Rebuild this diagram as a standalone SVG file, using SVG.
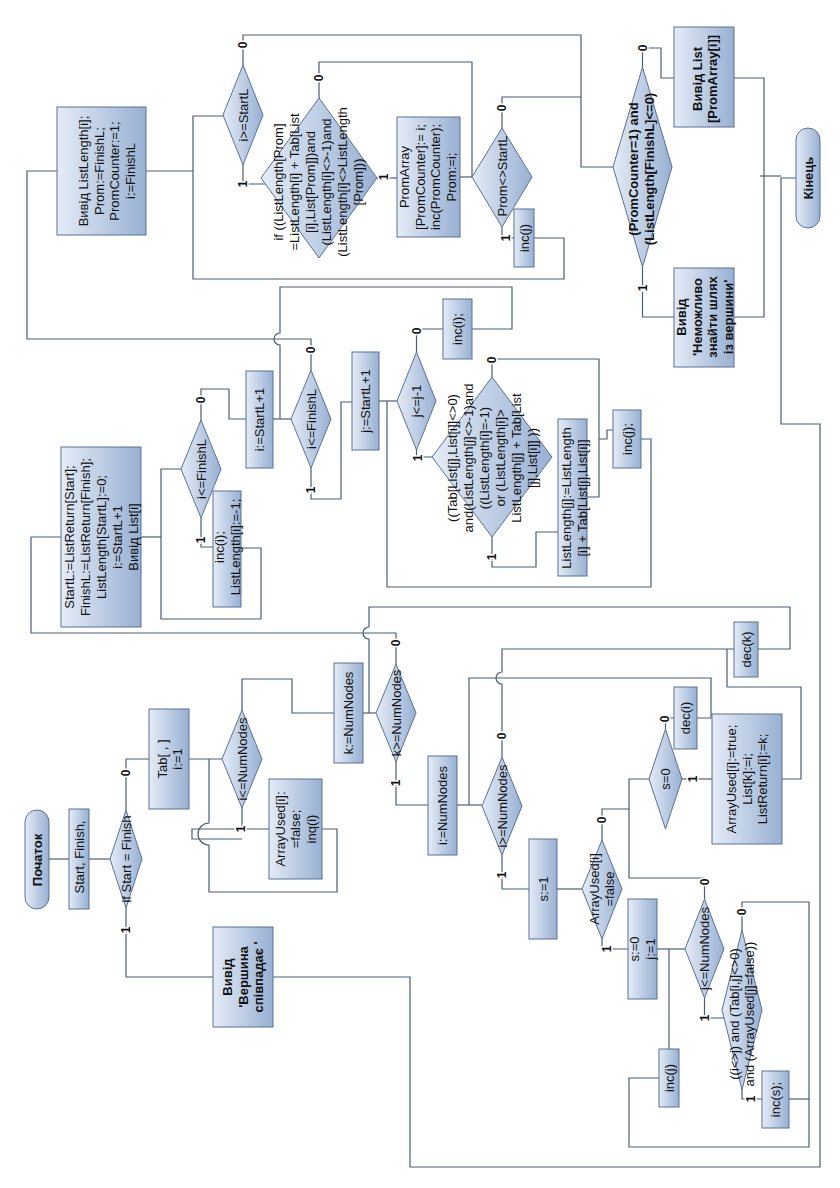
<svg xmlns="http://www.w3.org/2000/svg" width="840" height="1188" viewBox="0 0 840 1188">
<defs>
<linearGradient id="g" x1="0" y1="0" x2="1" y2="0">
<stop offset="0" stop-color="#e4ecf7"/>
<stop offset="1" stop-color="#98b0d2"/>
</linearGradient>
<style>
.ln{fill:none;stroke:#4b5e72;stroke-width:1.2}
.bx{fill:url(#g);stroke:#5a7194;stroke-width:1}
.t{font-family:"Liberation Sans",Arial,sans-serif;font-size:13px;fill:#111;text-anchor:middle}
.b{font-weight:bold}
.lb{font-family:"Liberation Sans",Arial,sans-serif;font-size:12px;font-weight:bold;text-anchor:middle;fill:#111;stroke:#fff;stroke-width:3;paint-order:stroke}
</style>
</defs>
<rect width="840" height="1188" fill="#fff"/>
<g id="connectors">
<path class="ln" d="M49,859 H69"/>
<path class="ln" d="M89,859 H110"/>
<path class="ln" d="M126,810 V759 H149"/>
<path class="ln" d="M126,908 V977 H213"/>
<path class="ln" d="M273,977 H410 V1167 H820 V424 H781 V178 H796"/>
<path class="ln" d="M189,759 H222"/>
<path class="ln" d="M242,808 V829 H269"/>
<path class="ln" d="M242,839 H192 V829 H242"/>
<path class="ln" d="M322,829 H337 V892 H209 V845 A11,11 0 0 1 209,823 V759"/>
<path class="ln" d="M242,710 V679 H292 V713 H334"/>
<path class="ln" d="M363,713 H376"/>
<path class="ln" d="M758,649 H790 V607 H369 V627 A6,6 0 0 0 369,639 V713"/>
<path class="ln" d="M396,664 V633 H31 V537 H61"/>
<path class="ln" d="M396,762 V805 H428"/>
<path class="ln" d="M457,805 H482"/>
<path class="ln" d="M697,718 H711 V678 H469 V805"/>
<path class="ln" d="M502,757 V684 A6,6 0 0 1 502,672 V649 H734"/>
<path class="ln" d="M782,779 H801 V687 H727 V649"/>
<path class="ln" d="M502,855 V889 H529"/>
<path class="ln" d="M557,889 H582"/>
<path class="ln" d="M602,840 V809 H629 V779 H649"/>
<path class="ln" d="M629,809 V878 H704.5 V899"/>
<path class="ln" d="M665.5,729 V718 H674"/>
<path class="ln" d="M682,779 H712"/>
<path class="ln" d="M602,939 V949 H628"/>
<path class="ln" d="M657,949 H685"/>
<path class="ln" d="M669,949 V1049"/>
<path class="ln" d="M704.5,998 V1018 H724"/>
<path class="ln" d="M742,930 V902 H809 V1147 H629 V1078 H659"/>
<path class="ln" d="M742,1090 V1099 H762"/>
<path class="ln" d="M789,1099 H809"/>
<path class="ln" d="M141,537 H161"/>
<path class="ln" d="M241,548 H261 V619 H161 V469 H181"/>
<path class="ln" d="M201,518 V547 H213"/>
<path class="ln" d="M201,420 V389 H229 V419 H246"/>
<path class="ln" d="M273,419 H291"/>
<path class="ln" d="M472,329 H512 V287 H280 V333 A6,6 0 0 0 280,345 V419"/>
<path class="ln" d="M311,370 V339 H27 V171 H57"/>
<path class="ln" d="M311,468 V499 H341 V402 H352"/>
<path class="ln" d="M379,401 H397"/>
<path class="ln" d="M641,439 H651 V587 H387 V401"/>
<path class="ln" d="M416.5,352 V329 H443"/>
<path class="ln" d="M416.5,450 V457 H432"/>
<path class="ln" d="M492,377 V359 H599 V497 H587"/>
<path class="ln" d="M599,439 H607 V430 H613"/>
<path class="ln" d="M492,537 V567 H536 V532 H558"/>
<path class="ln" d="M146,171 H193"/>
<path class="ln" d="M534,238 H564 V279 H193 V116 H223"/>
<path class="ln" d="M243,65 V35 H581 V167 H613"/>
<path class="ln" d="M243,165 V184 H265"/>
<path class="ln" d="M319,98 V62 H472 V177"/>
<path class="ln" d="M377,178 H397"/>
<path class="ln" d="M460,177 H472"/>
<path class="ln" d="M502,128 V97 H581"/>
<path class="ln" d="M502,227 V238 H514"/>
<path class="ln" d="M642.5,67 V48 H661 V78 H674"/>
<path class="ln" d="M642.5,267 V317 H674"/>
<path class="ln" d="M734,78 H764 V317 H734"/>
<path class="ln" d="M760,176 H781"/>
</g>

<g id="n-start">
<rect class="bx" x="25" y="810" width="24" height="99" rx="12"/>
<text class="t b" transform="translate(37,860) rotate(-90)"><tspan x="0" y="4.5">Початок</tspan></text>
</g>
<g id="n-input">
<rect class="bx" x="69" y="809" width="20" height="100"/>
<text class="t" transform="translate(79,857) rotate(-90)"><tspan x="0" y="4.5">Start, Finish,</tspan></text>
</g>
<g id="n-if-start">
<polygon class="bx" points="110,859 126,810 142,859 126,908"/>
<text class="t" transform="translate(126,859) rotate(-90)"><tspan x="0" y="4.5">if Start = Finish</tspan></text>
</g>
<g id="n-tab">
<rect class="bx" x="149" y="709" width="40" height="100"/>
<text class="t" transform="translate(170,759) rotate(-90)"><tspan x="0" y="-3.25">Tab[ , ]</tspan><tspan x="0" y="12.25">i:=1</tspan></text>
</g>
<g id="n-i-le-numnodes">
<polygon class="bx" points="222,759 242,710 262,759 242,808"/>
<text class="t" transform="translate(242,759) rotate(-90)"><tspan x="0" y="4.5">i&lt;=NumNodes</tspan></text>
</g>
<g id="n-arrayused-false">
<rect class="bx" x="269" y="779" width="53" height="100"/>
<text class="t" transform="translate(295.5,829) rotate(-90)"><tspan x="0" y="-11">ArrayUsed[i]:</tspan><tspan x="0" y="4.5">=false;</tspan><tspan x="0" y="20">inq(i)</tspan></text>
</g>
<g id="n-k-assign">
<rect class="bx" x="334" y="663" width="29" height="100"/>
<text class="t" transform="translate(348.5,713) rotate(-90)"><tspan x="0" y="4.5">k:=NumNodes</tspan></text>
</g>
<g id="n-k-ge">
<polygon class="bx" points="376,713 396,664 416,713 396,762"/>
<text class="t" transform="translate(396,713) rotate(-90)"><tspan x="0" y="4.5">k&gt;=NumNodes</tspan></text>
</g>
<g id="n-i-assign">
<rect class="bx" x="428" y="756" width="29" height="99"/>
<text class="t" transform="translate(442.5,805.5) rotate(-90)"><tspan x="0" y="4.5">i:=NumNodes</tspan></text>
</g>
<g id="n-i-ge">
<polygon class="bx" points="482,806 502,757 522,806 502,855"/>
<text class="t" transform="translate(502,806) rotate(-90)"><tspan x="0" y="4.5">i&gt;=NumNodes</tspan></text>
</g>
<g id="n-s1">
<rect class="bx" x="529" y="839" width="28" height="100"/>
<text class="t" transform="translate(543,889) rotate(-90)"><tspan x="0" y="4.5">s:=1</tspan></text>
</g>
<g id="n-arrayused-test">
<polygon class="bx" points="582,889 602,840 622,889 602,939"/>
<text class="t" transform="translate(602,889) rotate(-90)"><tspan x="0" y="-3.25">ArrayUsed[i]</tspan><tspan x="0" y="12.25">=false</tspan></text>
</g>
<g id="n-s0-test">
<polygon class="bx" points="649,779 665.5,729 682,779 665.5,829"/>
<text class="t" transform="translate(665.5,779) rotate(-90)"><tspan x="0" y="4.5">s=0</tspan></text>
</g>
<g id="n-dec-i">
<rect class="bx" x="674" y="687" width="23" height="62"/>
<text class="t" transform="translate(685.5,718) rotate(-90)"><tspan x="0" y="4.5">dec(i)</tspan></text>
</g>
<g id="n-arrayused-true">
<rect class="bx" x="712" y="714" width="70" height="130"/>
<text class="t" transform="translate(747,779) rotate(-90)"><tspan x="0" y="-11">ArrayUsed[i]:=true;</tspan><tspan x="0" y="4.5">List[k]:=i;</tspan><tspan x="0" y="20">ListReturn[i]:=k;</tspan></text>
</g>
<g id="n-dec-k">
<rect class="bx" x="734" y="622" width="24" height="55"/>
<text class="t" transform="translate(746,649.5) rotate(-90)"><tspan x="0" y="4.5">dec(k)</tspan></text>
</g>
<g id="n-s0-j1">
<rect class="bx" x="628" y="899" width="29" height="100"/>
<text class="t" transform="translate(642.5,949) rotate(-90)"><tspan x="0" y="-3.25">s:=0</tspan><tspan x="0" y="12.25">j:=1</tspan></text>
</g>
<g id="n-j-le">
<polygon class="bx" points="685,949 704.5,899 724,949 704.5,998"/>
<text class="t" transform="translate(704.5,948.5) rotate(-90)"><tspan x="0" y="4.5">j&lt;=NumNodes</tspan></text>
</g>
<g id="n-and-test">
<polygon class="bx" points="722,1010 742,930 762,1010 742,1090"/>
<text class="t" transform="translate(742,1014) rotate(-90)"><tspan x="0" y="-3.25">((i&lt;&gt;j) and (Tab[i,j]&lt;&gt;0)</tspan><tspan x="0" y="12.25">and (ArrayUsed[j]=false))</tspan></text>
</g>
<g id="n-inc-s">
<rect class="bx" x="762" y="1071" width="27" height="57"/>
<text class="t" transform="translate(775.5,1099.5) rotate(-90)"><tspan x="0" y="4.5">inc(s);</tspan></text>
</g>
<g id="n-inc-j-low">
<rect class="bx" x="659" y="1049" width="20" height="58"/>
<text class="t" transform="translate(669,1078) rotate(-90)"><tspan x="0" y="4.5">inc(j)</tspan></text>
</g>
<g id="n-same">
<rect class="bx" x="213" y="927" width="60" height="100"/>
<text class="t b" transform="translate(243,977) rotate(-90)"><tspan x="0" y="-11">Вивід</tspan><tspan x="0" y="4.5">'Вершина</tspan><tspan x="0" y="20">співпадає '</tspan></text>
</g>
<g id="n-startl">
<rect class="bx" x="61" y="447" width="80" height="180"/>
<text class="t" transform="translate(101.5,537) rotate(-90)"><tspan x="0" y="-27.5">StartL:=ListReturn[Start];</tspan><tspan x="0" y="-11.5">FinishL:=ListReturn[Finish];</tspan><tspan x="0" y="4.5">ListLength[StartL]:=0;</tspan><tspan x="0" y="20.5">i:=StartL+1</tspan><tspan x="0" y="36.5">Вивід List[i]</tspan></text>
</g>
<g id="n-i-le-finish1">
<polygon class="bx" points="181,469 201,420 221,469 201,518"/>
<text class="t" transform="translate(201,469) rotate(-90)"><tspan x="0" y="4.5">i&lt;=FinishL</tspan></text>
</g>
<g id="n-inc-i-len">
<rect class="bx" x="213" y="491" width="28" height="116"/>
<text class="t" transform="translate(227.5,547) rotate(-90)"><tspan x="0" y="-3.25">inc(i);</tspan><tspan x="0" y="12.25">ListLength[i]:=-1;</tspan></text>
</g>
<g id="n-i-startl">
<rect class="bx" x="246" y="371" width="27" height="97"/>
<text class="t" transform="translate(259.5,419.5) rotate(-90)"><tspan x="0" y="4.5">i:=StartL+1</tspan></text>
</g>
<g id="n-i-le-finish2">
<polygon class="bx" points="291,419 311,370 331,419 311,468"/>
<text class="t" transform="translate(311,419) rotate(-90)"><tspan x="0" y="4.5">i&lt;=FinishL</tspan></text>
</g>
<g id="n-j-startl">
<rect class="bx" x="352" y="352" width="27" height="98"/>
<text class="t" transform="translate(365.5,401) rotate(-90)"><tspan x="0" y="4.5">j:=StartL+1</tspan></text>
</g>
<g id="n-j-le-j">
<polygon class="bx" points="397,401 416.5,352 436,401 416.5,450"/>
<text class="t" transform="translate(416.5,401) rotate(-90)"><tspan x="0" y="4.5">j&lt;=j-1</tspan></text>
</g>
<g id="n-inc-i-top">
<rect class="bx" x="443" y="299" width="29" height="60"/>
<text class="t" transform="translate(457.5,329) rotate(-90)"><tspan x="0" y="4.5">inc(i);</tspan></text>
</g>
<g id="n-relax-test">
<polygon class="bx" points="432,457 492,377 552,457 492,537"/>
<text class="t" transform="translate(492,458) rotate(-90)"><tspan x="0" y="-35.5">((Tab[List[j],List[i]]&lt;&gt;0)</tspan><tspan x="0" y="-19.5">and(ListLength[j]&lt;&gt;-1)and</tspan><tspan x="0" y="-3.5">((ListLength[i]=-1)</tspan><tspan x="0" y="12.5">or (ListLength[i]&gt;</tspan><tspan x="0" y="28.5">ListLength[j] + Tab[List</tspan><tspan x="0" y="44.5">[j],List[i]] ))</tspan></text>
</g>
<g id="n-relax">
<rect class="bx" x="558" y="419" width="29" height="157"/>
<text class="t" transform="translate(574.5,498) rotate(-90)"><tspan x="0" y="-3.25">ListLength[j]:=ListLength</tspan><tspan x="0" y="12.25">[i] + Tab[List[j],List[i]]</tspan></text>
</g>
<g id="n-inc-j-mid">
<rect class="bx" x="613" y="410" width="28" height="58"/>
<text class="t" transform="translate(627,439) rotate(-90)"><tspan x="0" y="4.5">inc(j);</tspan></text>
</g>
<g id="n-out-len">
<rect class="bx" x="57" y="107" width="89" height="128"/>
<text class="t" transform="translate(107,171) rotate(-90)"><tspan x="0" y="-18.75">Вивід ListLength[i];</tspan><tspan x="0" y="-3.25">Prom:=FinishL;</tspan><tspan x="0" y="12.25">PromCounter:=1;</tspan><tspan x="0" y="27.75">i:=FinishL</tspan></text>
</g>
<g id="n-i-ge-startl">
<polygon class="bx" points="223,115 243,65 263,115 243,165"/>
<text class="t" transform="translate(243,115) rotate(-90)"><tspan x="0" y="4.5">i&gt;=StartL</tspan></text>
</g>
<g id="n-path-test">
<polygon class="bx" points="261,178 319,98 377,178 319,258"/>
<text class="t" transform="translate(318,182) rotate(-90)"><tspan x="0" y="-35.5">if ((ListLength[Prom]</tspan><tspan x="0" y="-19.5">=ListLength[i] + Tab[List</tspan><tspan x="0" y="-3.5">[i],List[Prom]])and</tspan><tspan x="0" y="12.5">(ListLength[i]&lt;&gt;-1)and</tspan><tspan x="0" y="28.5">(ListLength[i]&lt;&gt;ListLength</tspan><tspan x="0" y="44.5">[Prom]))</tspan></text>
</g>
<g id="n-promarray">
<rect class="bx" x="397" y="117" width="63" height="120"/>
<text class="t" transform="translate(428,177) rotate(-90)"><tspan x="0" y="-18.75">PromArray</tspan><tspan x="0" y="-3.25">[PromCounter]:= i;</tspan><tspan x="0" y="12.25">inc(PromCounter);</tspan><tspan x="0" y="27.75">Prom:=i;</tspan></text>
</g>
<g id="n-prom-ne">
<polygon class="bx" points="472,177 502,128 532,177 502,227"/>
<text class="t" transform="translate(502,176) rotate(-90)"><tspan x="0" y="4.5">Prom&lt;&gt;StartL</tspan></text>
</g>
<g id="n-inc-j-top">
<rect class="bx" x="514" y="209" width="20" height="58"/>
<text class="t" transform="translate(524,238) rotate(-90)"><tspan x="0" y="4.5">inc(j)</tspan></text>
</g>
<g id="n-final-test">
<polygon class="bx" points="613,167 642.5,67 672,167 642.5,267"/>
<text class="t b" transform="translate(641.5,169) rotate(-90)"><tspan x="0" y="-3.25">(PromCounter=1) and</tspan><tspan x="0" y="12.25">(ListLength[FinishL]&lt;=0)</tspan></text>
</g>
<g id="n-out-list">
<rect class="bx" x="674" y="27" width="60" height="100"/>
<text class="t b" transform="translate(705,79) rotate(-90)"><tspan x="0" y="-3.25">Вивід List</tspan><tspan x="0" y="12.25">[PromArray[i]]</tspan></text>
</g>
<g id="n-out-none">
<rect class="bx" x="674" y="268" width="60" height="99"/>
<text class="t b" transform="translate(705,317) rotate(-90)"><tspan x="0" y="-18.75">Вивід</tspan><tspan x="0" y="-3.25">'Неможливо</tspan><tspan x="0" y="12.25">знайти шлях</tspan><tspan x="0" y="27.75">із вершини'</tspan></text>
</g>
<g id="n-end">
<rect class="bx" x="796" y="128" width="24" height="100" rx="12"/>
<text class="t b" transform="translate(808,178) rotate(-90)"><tspan x="0" y="4.5">Кінець</tspan></text>
</g>

<g id="labels">
<text class="lb" transform="translate(126,773) rotate(-90)" y="4">0</text>
<text class="lb" transform="translate(126,930) rotate(-90)" y="4">1</text>
<text class="lb" transform="translate(241,829) rotate(-90)" y="4">1</text>
<text class="lb" transform="translate(396,643) rotate(-90)" y="4">0</text>
<text class="lb" transform="translate(396,783) rotate(-90)" y="4">1</text>
<text class="lb" transform="translate(502,736) rotate(-90)" y="4">0</text>
<text class="lb" transform="translate(502,875) rotate(-90)" y="4">1</text>
<text class="lb" transform="translate(602,820) rotate(-90)" y="4">0</text>
<text class="lb" transform="translate(607,949) rotate(-90)" y="4">1</text>
<text class="lb" transform="translate(665,719) rotate(-90)" y="4">0</text>
<text class="lb" transform="translate(693,779) rotate(-90)" y="4">1</text>
<text class="lb" transform="translate(704.5,882) rotate(-90)" y="4">0</text>
<text class="lb" transform="translate(704.5,1018) rotate(-90)" y="4">1</text>
<text class="lb" transform="translate(742,912) rotate(-90)" y="4">0</text>
<text class="lb" transform="translate(751,1099) rotate(-90)" y="4">1</text>
<text class="lb" transform="translate(201,400) rotate(-90)" y="4">0</text>
<text class="lb" transform="translate(201,540) rotate(-90)" y="4">1</text>
<text class="lb" transform="translate(311,350) rotate(-90)" y="4">0</text>
<text class="lb" transform="translate(311,490) rotate(-90)" y="4">1</text>
<text class="lb" transform="translate(417,331) rotate(-90)" y="4">0</text>
<text class="lb" transform="translate(418,458) rotate(-90)" y="4">1</text>
<text class="lb" transform="translate(492,360) rotate(-90)" y="4">0</text>
<text class="lb" transform="translate(492,557) rotate(-90)" y="4">1</text>
<text class="lb" transform="translate(243,45) rotate(-90)" y="4">0</text>
<text class="lb" transform="translate(243,184) rotate(-90)" y="4">1</text>
<text class="lb" transform="translate(319,78) rotate(-90)" y="4">0</text>
<text class="lb" transform="translate(384,177) rotate(-90)" y="4">1</text>
<text class="lb" transform="translate(502,108) rotate(-90)" y="4">0</text>
<text class="lb" transform="translate(506,238) rotate(-90)" y="4">1</text>
<text class="lb" transform="translate(642.5,48) rotate(-90)" y="4">0</text>
<text class="lb" transform="translate(642.5,288) rotate(-90)" y="4">1</text>
</g>
</svg>
